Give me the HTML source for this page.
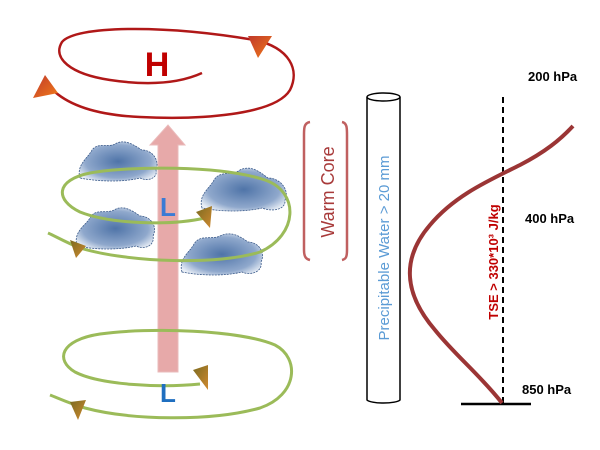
<!DOCTYPE html>
<html><head><style>body{margin:0;background:#fff}svg{display:block}</style></head><body>
<svg width="600" height="450" viewBox="0 0 600 450" xmlns="http://www.w3.org/2000/svg" font-family="Liberation Sans, sans-serif">
<defs>
<linearGradient id="tri" x1="0" y1="0" x2="1" y2="1"><stop offset="0" stop-color="#c0392b"/><stop offset="1" stop-color="#f07a1a"/></linearGradient>
<linearGradient id="gtri" x1="0" y1="0" x2="1" y2="1"><stop offset="0" stop-color="#7a6a20"/><stop offset="1" stop-color="#d08a30"/></linearGradient>
<radialGradient id="cl" cx="0.5" cy="0.5" r="0.6"><stop offset="0" stop-color="#4f74a8"/><stop offset="0.7" stop-color="#8fa8cc"/><stop offset="1" stop-color="#e8eef6"/></radialGradient>
</defs>
<!-- H spiral -->
<path d="M202,73 C180,83 150,86 110,80 C70,74 52,58 62,42 C75,26 160,24 255,40 C290,48 300,70 290,90 C275,115 200,120 140,117 C95,115 70,105 55,92" fill="none" stroke="#b01818" stroke-width="2.5"/>
<polygon points="248,36 272,36 258,58" fill="url(#tri)"/>
<polygon points="45,75 58,93 33,98" fill="url(#tri)"/>
<text x="157" y="76" font-size="34" font-weight="bold" fill="#c00000" text-anchor="middle">H</text>
<!-- pink arrow -->
<polygon points="158,372 178,372 178,145 185,145 168,125 150,145 158,145" fill="#e5a0a0" stroke="#e8b4b4" stroke-width="1" opacity="0.9"/>
<!-- clouds -->
<g fill="url(#cl)" stroke="#3a5a8a" stroke-width="0.8" stroke-dasharray="2,1">
<path d="M80,178 C76,165 88,158 92,150 C98,142 108,148 115,144 C125,138 135,146 142,150 C152,150 160,160 156,170 C158,178 148,182 140,178 C125,182 100,182 80,178Z"/>
<path d="M202,208 C198,195 210,188 214,180 C220,170 232,176 240,170 C252,164 262,174 268,178 C280,178 290,190 285,200 C286,210 272,212 262,208 C245,212 222,212 202,208Z"/>
<path d="M77,246 C73,232 85,226 90,218 C95,208 106,214 114,210 C124,204 134,212 140,216 C150,216 158,226 153,236 C155,246 144,250 136,246 C120,250 96,250 77,246Z"/>
<path d="M182,272 C178,259 190,252 194,244 C200,234 212,240 220,236 C232,230 242,238 248,242 C258,242 266,252 261,262 C263,272 250,276 242,272 C226,276 202,276 182,272Z"/>
</g>
<!-- green upper spiral -->
<path d="M205,218 C170,226 110,224 80,212 C55,200 55,180 90,173 C130,166 220,165 265,180 C300,192 298,235 260,252 C220,265 130,263 80,248 C65,242 55,236 48,233" fill="none" stroke="#9bbb59" stroke-width="3"/>
<polygon points="196,212 212,206 210,228" fill="url(#gtri)"/>
<polygon points="70,240 86,246 76,258" fill="url(#gtri)"/>
<!-- green lower spiral -->
<path d="M200,384 C160,388 100,385 75,372 C55,360 60,340 100,334 C150,327 240,330 275,345 C300,358 298,395 260,408 C210,422 130,420 85,408 C68,403 58,398 50,395" fill="none" stroke="#9bbb59" stroke-width="3"/>
<polygon points="193,370 208,365 208,390" fill="url(#gtri)"/>
<polygon points="70,402 86,400 78,420" fill="url(#gtri)"/>
<text x="168" y="216" font-size="26" font-weight="bold" fill="#3a7bd5" text-anchor="middle">L</text>
<text x="168" y="402" font-size="26" font-weight="bold" fill="#1f6fc0" text-anchor="middle">L</text>
<!-- warm core brackets -->
<path d="M310,122 C304,123 304,128 304,135 L304,250 C304,257 306,259 310,260" fill="none" stroke="#c06060" stroke-width="2.5"/>
<path d="M342,122 C347,123 347,128 347,135 L347,250 C347,257 346,259 342,260" fill="none" stroke="#c06060" stroke-width="2.5"/>
<text transform="translate(334,192) rotate(-90)" font-size="18" fill="#a83a3a" text-anchor="middle">Warm Core</text>
<!-- cylinder -->
<path d="M367,97 L367,400 A17,4 0 0 0 400,400 L400,97" fill="#fff" stroke="#000" stroke-width="1.5"/>
<ellipse cx="383.5" cy="97" rx="16.5" ry="4" fill="#fff" stroke="#000" stroke-width="1.5"/>
<text transform="translate(389,248) rotate(-90)" font-size="15" fill="#5b9bd5" text-anchor="middle">Precipitable Water &gt; 20 mm</text>
<!-- profile -->
<line x1="503" y1="97" x2="503" y2="404" stroke="#000" stroke-width="2" stroke-dasharray="6,4"/>
<line x1="461" y1="404" x2="531" y2="404" stroke="#000" stroke-width="2.5"/>
<path d="M502,403 C480,375 455,355 435,330 C405,295 400,260 430,225 C455,195 490,180 520,165 C545,152 560,140 573,126" fill="none" stroke="#9b3535" stroke-width="4"/>
<text transform="translate(498,262) rotate(-90)" font-size="13" font-weight="bold" fill="#c00000" text-anchor="middle">TSE &gt; 330*10³ J/kg</text>
<g font-size="13" font-weight="bold" fill="#000">
<text x="528" y="81">200 hPa</text>
<text x="525" y="223">400 hPa</text>
<text x="522" y="394">850 hPa</text>
</g>
</svg>
</body></html>
